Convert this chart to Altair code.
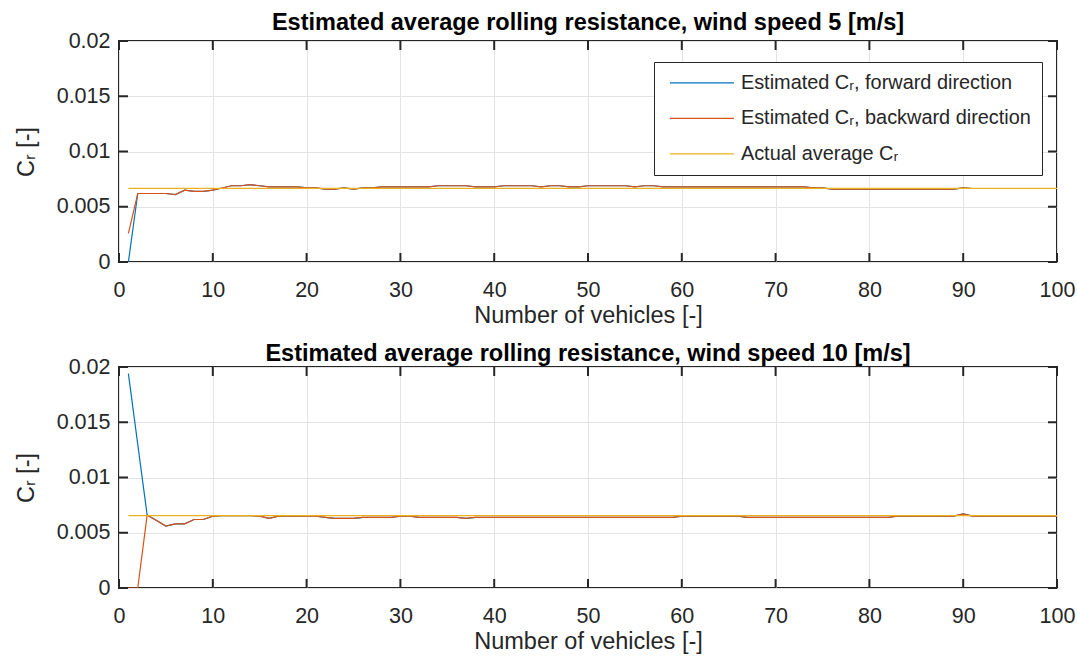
import altair as alt
import pandas as pd

# ---------------- data ----------------
n_vehicles = list(range(1, 101))

top_forward = [
    0.0000, 0.0062, 0.0062, 0.0062, 0.0062, 0.0061, 0.0065, 0.0064, 0.0064, 0.0065,
    0.0067, 0.0069, 0.0069, 0.0070, 0.0069, 0.0068, 0.0068, 0.0068, 0.0068, 0.0067,
    0.0067, 0.0066, 0.0066, 0.0067, 0.0066, 0.0067, 0.0067, 0.0068, 0.0068, 0.0068,
    0.0068, 0.0068, 0.0068, 0.0069, 0.0069, 0.0069, 0.0069, 0.0068, 0.0068, 0.0068,
    0.0069, 0.0069, 0.0069, 0.0069, 0.0068, 0.0069, 0.0069, 0.0068, 0.0068, 0.0069,
    0.0069, 0.0069, 0.0069, 0.0069, 0.0068, 0.0069, 0.0069, 0.0068, 0.0068, 0.0068,
    0.0068, 0.0068, 0.0068, 0.0068, 0.0068, 0.0068, 0.0068, 0.0068, 0.0068, 0.0068,
    0.0068, 0.0068, 0.0068, 0.0067, 0.0067, 0.0066, 0.0066, 0.0066, 0.0066, 0.0066,
    0.0066, 0.0066, 0.0066, 0.0066, 0.0066, 0.0066, 0.0066, 0.0066, 0.0066, 0.0067,
    0.00665, 0.00665, 0.00665, 0.00665, 0.00665, 0.00665, 0.00665, 0.00665, 0.00665, 0.00665,
]
top_backward = [
    0.0026, 0.0062, 0.0062, 0.0062, 0.0062, 0.0061, 0.0065, 0.0064, 0.0064, 0.0065,
    0.0067, 0.0069, 0.0069, 0.0070, 0.0069, 0.0068, 0.0068, 0.0068, 0.0068, 0.0067,
    0.0067, 0.0066, 0.0066, 0.0067, 0.0066, 0.0067, 0.0067, 0.0068, 0.0068, 0.0068,
    0.0068, 0.0068, 0.0068, 0.0069, 0.0069, 0.0069, 0.0069, 0.0068, 0.0068, 0.0068,
    0.0069, 0.0069, 0.0069, 0.0069, 0.0068, 0.0069, 0.0069, 0.0068, 0.0068, 0.0069,
    0.0069, 0.0069, 0.0069, 0.0069, 0.0068, 0.0069, 0.0069, 0.0068, 0.0068, 0.0068,
    0.0068, 0.0068, 0.0068, 0.0068, 0.0068, 0.0068, 0.0068, 0.0068, 0.0068, 0.0068,
    0.0068, 0.0068, 0.0068, 0.0067, 0.0067, 0.0066, 0.0066, 0.0066, 0.0066, 0.0066,
    0.0066, 0.0066, 0.0066, 0.0066, 0.0066, 0.0066, 0.0066, 0.0066, 0.0066, 0.0067,
    0.00665, 0.00665, 0.00665, 0.00665, 0.00665, 0.00665, 0.00665, 0.00665, 0.00665, 0.00665,
]
top_actual_x = [1, 100]
top_actual = [0.00667, 0.00667]

bottom_forward = [
    0.0194, 0.0130, 0.0066, 0.0061, 0.0056, 0.0058, 0.0058, 0.0062, 0.0062, 0.0065,
    0.00655, 0.00655, 0.00655, 0.00655, 0.0065, 0.0063, 0.0065, 0.0065, 0.0065, 0.0065,
    0.0065, 0.0064, 0.0063, 0.0063, 0.0063, 0.0064, 0.0064, 0.0064, 0.0064, 0.0065,
    0.0065, 0.0064, 0.0064, 0.0064, 0.0064, 0.0064, 0.0063, 0.0064, 0.0064, 0.0064,
    0.0064, 0.0064, 0.0064, 0.0064, 0.0064, 0.0064, 0.0064, 0.0064, 0.0064, 0.0064,
    0.0064, 0.0064, 0.0064, 0.0064, 0.0064, 0.0064, 0.0064, 0.0064, 0.0064, 0.0065,
    0.0065, 0.0065, 0.0065, 0.0065, 0.0065, 0.0065, 0.0064, 0.0064, 0.0064, 0.0064,
    0.0064, 0.0064, 0.0064, 0.0064, 0.0064, 0.0064, 0.0064, 0.0064, 0.0064, 0.0064,
    0.0064, 0.0064, 0.0065, 0.0065, 0.0065, 0.0065, 0.0065, 0.0065, 0.0065, 0.0067,
    0.0065, 0.0065, 0.0065, 0.0065, 0.0065, 0.0065, 0.0065, 0.0065, 0.0065, 0.0065,
]
bottom_backward = [
    0.0000, 0.0000, 0.0066, 0.0061, 0.0056, 0.0058, 0.0058, 0.0062, 0.0062, 0.0065,
    0.00655, 0.00655, 0.00655, 0.00655, 0.0065, 0.0063, 0.0065, 0.0065, 0.0065, 0.0065,
    0.0065, 0.0064, 0.0063, 0.0063, 0.0063, 0.0064, 0.0064, 0.0064, 0.0064, 0.0065,
    0.0065, 0.0064, 0.0064, 0.0064, 0.0064, 0.0064, 0.0063, 0.0064, 0.0064, 0.0064,
    0.0064, 0.0064, 0.0064, 0.0064, 0.0064, 0.0064, 0.0064, 0.0064, 0.0064, 0.0064,
    0.0064, 0.0064, 0.0064, 0.0064, 0.0064, 0.0064, 0.0064, 0.0064, 0.0064, 0.0065,
    0.0065, 0.0065, 0.0065, 0.0065, 0.0065, 0.0065, 0.0064, 0.0064, 0.0064, 0.0064,
    0.0064, 0.0064, 0.0064, 0.0064, 0.0064, 0.0064, 0.0064, 0.0064, 0.0064, 0.0064,
    0.0064, 0.0064, 0.0065, 0.0065, 0.0065, 0.0065, 0.0065, 0.0065, 0.0065, 0.0067,
    0.0065, 0.0065, 0.0065, 0.0065, 0.0065, 0.0065, 0.0065, 0.0065, 0.0065, 0.0065,
]
bottom_actual_x = [1, 100]
bottom_actual = [0.00655, 0.00655]

x_ticks = [0, 10, 20, 30, 40, 50, 60, 70, 80, 90, 100]
y_ticks = [0, 0.005, 0.01, 0.015, 0.02]

series_names = [
    "Estimated C\u1d63, forward direction",
    "Estimated C\u1d63, backward direction",
    "Actual average C\u1d63",
]
series_colors = ["#0072BD", "#D95319", "#EDB120"]

titles = [
    "Estimated average rolling resistance, wind speed 5 [m/s]",
    "Estimated average rolling resistance, wind speed 10 [m/s]",
]

# ---------------- style ----------------
W, H = 938, 221
FONT = "Liberation Sans"
TXT = "#262626"
TICK_LEN = 9


def panel(forward, backward, act_x, act_y, title, title_offset):
    df_f = pd.DataFrame({"n": n_vehicles, "cr": forward, "series": series_names[0]})
    df_b = pd.DataFrame({"n": n_vehicles, "cr": backward, "series": series_names[1]})
    df_a = pd.DataFrame({"n": act_x, "cr": act_y, "series": series_names[2]})

    xs = alt.Scale(domain=[0, 100], nice=False, zero=False)
    ys = alt.Scale(domain=[0, 0.02], nice=False, zero=False)
    color = alt.Color(
        "series:N",
        scale=alt.Scale(domain=series_names, range=series_colors),
        legend=alt.Legend(
            title=None, orient="none", legendX=535, legendY=21,
            direction="vertical", symbolType="M-4,0H4", symbolSize=256,
            symbolStrokeWidth=1.2, symbolOffset=27, labelOffset=29,
            labelFont=FONT, labelFontSize=19.9,
            labelColor=TXT, labelLimit=500,
            strokeColor=TXT, fillColor="white", padding=11, rowPadding=14.5,
        ),
    )
    x_axis = alt.Axis(
        values=x_ticks, grid=True, domain=False, ticks=False, labelFlush=False,
        labelFont=FONT, labelFontSize=21.5, labelColor=TXT, labelPadding=17,
        title="Number of vehicles [-]", titleFont=FONT, titleFontSize=23.5,
        titleFontWeight="normal", titleColor=TXT, titlePadding=3,
    )
    y_axis = alt.Axis(
        values=y_ticks, grid=True, domain=False, ticks=False, format="~g",
        labelFlush=False,
        labelFont=FONT, labelFontSize=21.5, labelColor=TXT, labelPadding=9,
        title="C\u1d63 [-]", titleFont=FONT, titleFontSize=23.5,
        titleFontWeight="normal", titleColor=TXT, titlePadding=18,
    )

    def line(df):
        return alt.Chart(df).mark_line(strokeWidth=1.2, clip=True).encode(
            x=alt.X("n:Q", scale=xs, axis=x_axis),
            y=alt.Y("cr:Q", scale=ys, axis=y_axis),
            color=color,
        )

    tx = pd.DataFrame({"t": x_ticks})
    ty = pd.DataFrame({"t": y_ticks})
    tick_style = dict(color=TXT, strokeWidth=2)
    bottom_t = alt.Chart(tx).mark_rule(**tick_style).encode(
        x=alt.X("t:Q", scale=xs, axis=x_axis), y=alt.value(H), y2=alt.value(H - TICK_LEN))
    top_t = alt.Chart(tx).mark_rule(**tick_style).encode(
        x=alt.X("t:Q", scale=xs, axis=x_axis), y=alt.value(0), y2=alt.value(TICK_LEN))
    left_t = alt.Chart(ty).mark_rule(**tick_style).encode(
        y=alt.Y("t:Q", scale=ys, axis=y_axis), x=alt.value(0), x2=alt.value(TICK_LEN))
    right_t = alt.Chart(ty).mark_rule(**tick_style).encode(
        y=alt.Y("t:Q", scale=ys, axis=y_axis), x=alt.value(W), x2=alt.value(W - TICK_LEN))

    return alt.layer(
        line(df_f), line(df_b), line(df_a),
        bottom_t, top_t, left_t, right_t,
    ).properties(
        width=W, height=H,
        title=alt.Title(title, font=FONT, fontSize=23.5, fontWeight="bold",
                        color="#000000", offset=title_offset, anchor="middle"),
    )


chart = alt.vconcat(
    panel(top_forward, top_backward, top_actual_x, top_actual, titles[0], -4),
    panel(bottom_forward, bottom_backward, bottom_actual_x, bottom_actual, titles[1], -9),
    spacing=12,
).configure_view(
    stroke=TXT, strokeWidth=2,
).configure_axis(
    gridColor="#e3e3e3", gridWidth=1,
).properties(
    background="white",
    padding={"left": 13, "top": 9, "right": 0, "bottom": 0},
)

chart.save("out.html", embed_options={"renderer": "svg", "actions": False})
